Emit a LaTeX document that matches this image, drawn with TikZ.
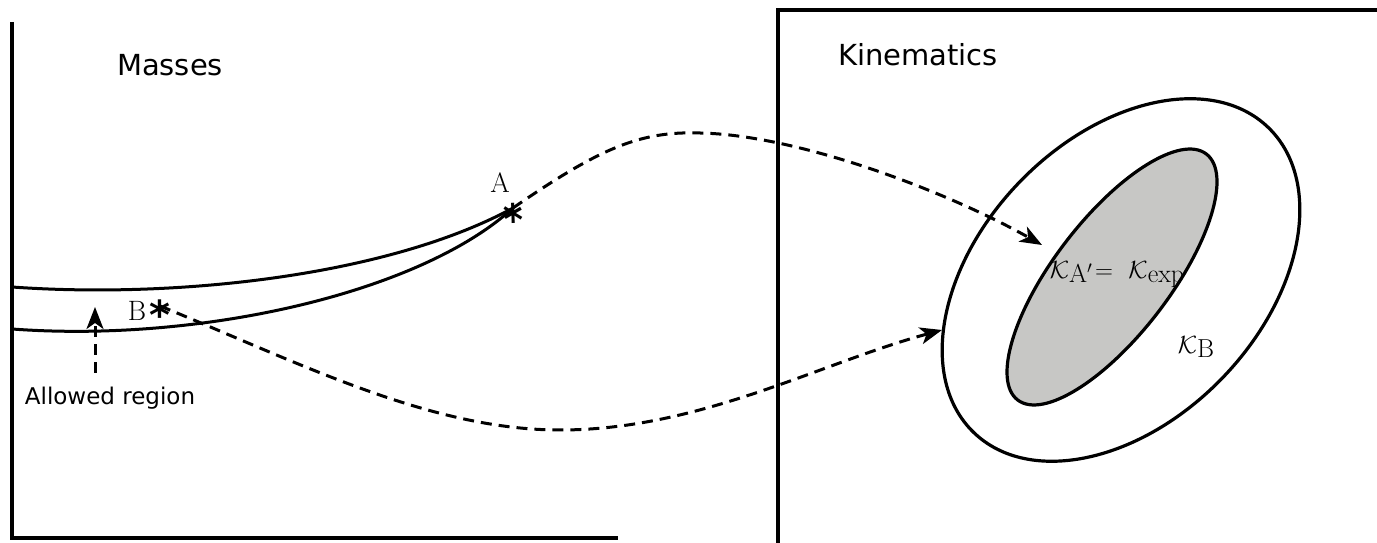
\documentclass[tikz,border=0pt]{standalone}
\usepackage{fontspec}
\newfontfamily\labelsans{DejaVu Sans}
\usetikzlibrary{arrows.meta}
\newcommand{\subtxt}[1]{\raisebox{-4pt}{\fontsize{26}{26}\selectfont\rmfamily #1}}
\begin{document}
\begin{tikzpicture}[x=1pt,y=1pt,
  axis/.style={line width=3.4pt},
  curve/.style={line width=3pt},
  dashline/.style={line width=3pt,dash pattern=on 11pt off 7pt},
  tip/.style={-{Stealth[length=22pt,width=17pt,inset=6pt]}},
  heading/.style={font=\labelsans\fontsize{29}{34}\selectfont},
  small/.style={font=\labelsans\fontsize{23}{27}\selectfont},
  serif/.style={font=\fontsize{28}{32}\selectfont},
  star/.style={font=\labelsans\bfseries\fontsize{40}{40}\selectfont, inner sep=0pt}]
\useasboundingbox (0,0) rectangle (1377,543);
% axes
\coordinate (lt) at (12,521); \coordinate (lo) at (12,5); \coordinate (lr) at (618,5);
\draw[axis] (lt) -- (lo) -- (lr);
\coordinate (rb) at (778,0); \coordinate (rt) at (778,533); \coordinate (rr) at (1377,533);
\draw[axis] (rb) -- (rt) -- (rr);
\node[heading] (masses) at (170,478) {Masses};
\node[heading] (kin) at (918,488) {Kinematics};
% mass curves
\coordinate (A) at (513,335);
\coordinate (B) at (160,237);
\coordinate (u0) at (12,256);
\coordinate (l0) at (12,214);
\draw[curve] (u0) .. controls (180,244) and (390,268) .. (A);
\draw[curve] (l0) .. controls (200,200) and (420,250) .. (A);
\node[star,rotate=-60] (starA) at ([xshift=-4pt,yshift=-8pt]A) {*};
\node[star] (starB) at ([yshift=-9pt]B) {*};
\node[serif] (labA) at (500,360) {A};
\node[serif] (labB) at (137,232) {B};
% ellipses
\draw[line width=3.2pt] (1121,263) ellipse [x radius=212, y radius=141, rotate=46];
\draw[line width=3.2pt, fill={rgb,255:red,199;green,199;blue,197}] (1112,266) ellipse [x radius=155, y radius=58, rotate=52.5];
\node[serif] (KA) at (1117,268) {$\mathcal{K}\subtxt{A$'$}\!=\ \mathcal{K}\subtxt{exp}$};
\node[serif] (KB) at (1196,196) {$\mathcal{K}\subtxt{B}$};
\coordinate (endA) at (1042,298);
\coordinate (endB) at (942,213);
% dashed connectors
\draw[dashline,tip] (A) .. controls (600,395) and (640,412) .. (700,410) .. controls (800,408) and (950,350) .. (endA);
\draw[dashline,tip] (B) .. controls (300,180) and (430,113) .. (560,113) .. controls (700,113) and (820,180) .. (endB);
% allowed region
\node[small] (allowed) at (110,145) {Allowed region};
\coordinate (allowedTip) at (95,236);
\draw[dashline,tip] (95,170) -- (allowedTip);
\end{tikzpicture}
\end{document}
